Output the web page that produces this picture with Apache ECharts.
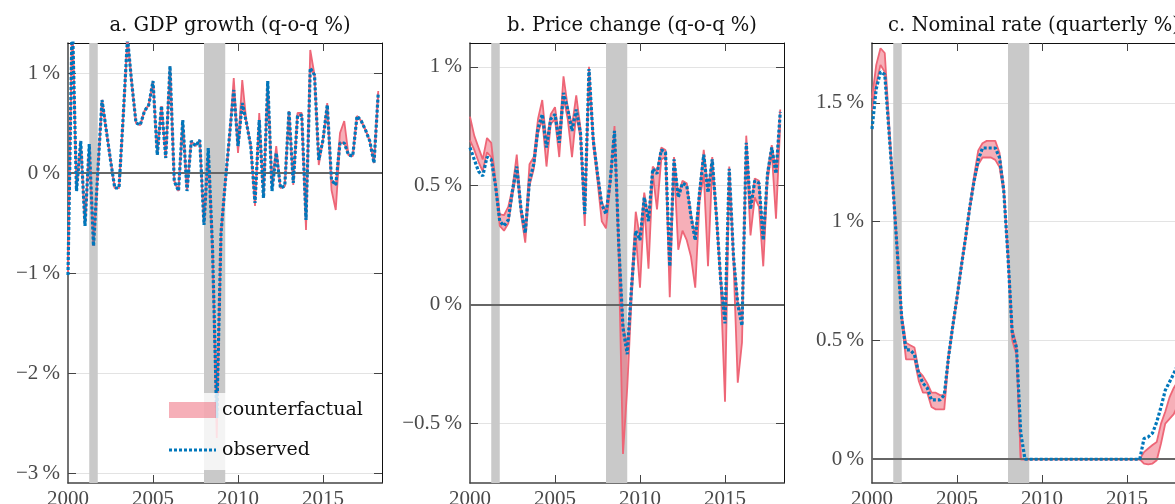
<!DOCTYPE html>
<html>
<head>
<meta charset="utf-8">
<script src="https://cdn.jsdelivr.net/npm/echarts@6/dist/echarts.min.js"></script>
<style>
html, body { margin: 0; padding: 0; overflow: hidden; background: #fff; }
#chart { width: 1200px; height: 520px; }
</style>
</head>
<body>
<div id="chart"></div>
<script>
// ---------------- data ----------------
const startYear = 2000;
const nQuarters = 74; // 2000Q1 .. 2018Q2
const quarters = Array.from({length: nQuarters}, (_, i) => startYear + i * 0.25);

const panelTitles = ['a. GDP growth (q-o-q %)', 'b. Price change (q-o-q %)', 'c. Nominal rate (quarterly %)'];
const xTickValues = [2000, 2005, 2010, 2015];
const recessions = [[2001.25, 2001.75], [2008.0, 2009.25]];

const gdpTicks = [-3, -2, -1, 0, 1];
const pceTicks = [-0.5, 0, 0.5, 1];
const rateTicks = [0, 0.5, 1, 1.5];

const gdpObs = [-1.02,1.6,-0.18,0.32,-0.53,0.29,-0.73,0.0,0.73,0.43,
  0.13,-0.15,-0.15,0.57,1.35,0.9,0.5,0.48,0.62,0.68,
  0.92,0.18,0.67,0.15,1.07,-0.08,-0.18,0.53,-0.18,0.32,
  0.27,0.33,-0.52,0.25,-0.75,-2.45,-0.6,-0.1,0.37,0.83,
  0.27,0.7,0.5,0.27,-0.3,0.53,-0.25,0.92,-0.18,0.2,
  -0.15,-0.13,0.62,-0.1,0.57,0.58,-0.47,1.05,0.98,0.13,
  0.33,0.68,-0.07,-0.12,0.3,0.3,0.18,0.17,0.57,0.52,
  0.43,0.32,0.1,0.8];
const gdpLo = [-1.02,1.6,-0.18,0.32,-0.53,0.29,-0.73,0.0,0.73,0.43,
  0.13,-0.15,-0.15,0.57,1.35,0.9,0.5,0.48,0.62,0.68,
  0.92,0.18,0.67,0.15,1.07,-0.08,-0.18,0.53,-0.18,0.32,
  0.27,0.33,-0.52,0.25,-0.75,-2.65,-0.6,-0.1,0.37,0.83,
  0.2,0.7,0.5,0.27,-0.33,0.53,-0.25,0.92,-0.18,0.2,
  -0.15,-0.13,0.62,-0.12,0.57,0.58,-0.57,1.05,0.98,0.08,
  0.33,0.68,-0.17,-0.37,0.3,0.3,0.18,0.17,0.57,0.52,
  0.43,0.32,0.1,0.8];
const gdpHi = [-1.02,1.6,-0.18,0.32,-0.53,0.29,-0.73,0.0,0.73,0.43,
  0.13,-0.15,-0.15,0.57,1.35,0.9,0.5,0.48,0.62,0.68,
  0.92,0.18,0.67,0.15,1.07,-0.08,-0.18,0.53,-0.18,0.32,
  0.27,0.33,-0.52,0.25,-0.75,-2.45,-0.6,-0.1,0.37,0.95,
  0.27,0.93,0.5,0.27,-0.3,0.6,-0.25,0.92,-0.1,0.27,
  -0.15,-0.13,0.62,-0.1,0.6,0.6,-0.47,1.23,0.98,0.13,
  0.33,0.7,-0.07,-0.12,0.4,0.52,0.18,0.17,0.57,0.52,
  0.43,0.32,0.1,0.82];

const pceObs = [0.66,0.61,0.56,0.54,0.62,0.61,0.50,0.35,0.33,0.355,
  0.48,0.58,0.40,0.30,0.52,0.59,0.74,0.80,0.66,0.78,
  0.80,0.68,0.89,0.82,0.73,0.82,0.72,0.38,0.99,0.69,
  0.55,0.42,0.38,0.52,0.73,0.25,-0.10,-0.21,0.07,0.31,
  0.27,0.45,0.35,0.57,0.55,0.65,0.64,0.16,0.61,0.45,
  0.51,0.50,0.37,0.27,0.47,0.63,0.47,0.61,0.37,0.10,
  -0.08,0.57,0.20,0.00,-0.09,0.68,0.40,0.52,0.51,0.27,
  0.55,0.66,0.55,0.81];
const pceLo = [0.69,0.65,0.60,0.56,0.64,0.62,0.49,0.33,0.31,0.34,
  0.46,0.56,0.38,0.26,0.50,0.57,0.72,0.78,0.58,0.76,
  0.78,0.62,0.87,0.78,0.62,0.80,0.70,0.33,0.97,0.67,
  0.52,0.35,0.32,0.50,0.72,0.20,-0.63,-0.35,0.02,0.29,
  0.07,0.42,0.15,0.55,0.40,0.61,0.62,0.03,0.59,0.23,
  0.31,0.27,0.20,0.07,0.43,0.55,0.16,0.58,0.35,0.08,
  -0.41,0.55,0.18,-0.33,-0.16,0.66,0.29,0.45,0.41,0.16,
  0.52,0.64,0.36,0.76];
const pceHi = [0.79,0.71,0.66,0.61,0.70,0.68,0.52,0.38,0.375,0.41,
  0.49,0.63,0.41,0.31,0.59,0.62,0.78,0.86,0.68,0.80,
  0.83,0.70,0.96,0.83,0.75,0.88,0.74,0.40,1.00,0.71,
  0.56,0.43,0.39,0.53,0.75,0.27,-0.08,-0.19,0.09,0.39,
  0.28,0.47,0.36,0.58,0.56,0.66,0.65,0.17,0.62,0.46,
  0.52,0.51,0.38,0.28,0.48,0.65,0.48,0.62,0.38,0.11,
  -0.06,0.58,0.21,0.01,-0.06,0.71,0.41,0.53,0.52,0.28,
  0.56,0.67,0.56,0.82];

const rateObs = [1.39,1.56,1.63,1.62,1.38,1.13,0.86,0.59,0.46,0.46,
  0.44,0.36,0.32,0.30,0.25,0.25,0.25,0.27,0.43,0.56,
  0.68,0.81,0.93,1.06,1.17,1.26,1.31,1.31,1.31,1.31,
  1.27,1.13,0.85,0.53,0.47,0.11,0,0,0,0,
  0,0,0,0,0,0,0,0,0,0,
  0,0,0,0,0,0,0,0,0,0,
  0,0,0,0,0.087,0.094,0.11,0.157,0.22,0.29,
  0.325,0.36,0.40,0.44];
const rateLo = [1.47,1.58,1.66,1.63,1.37,1.12,0.85,0.58,0.42,0.42,
  0.42,0.33,0.28,0.28,0.22,0.21,0.21,0.21,0.42,0.55,
  0.67,0.80,0.92,1.05,1.16,1.24,1.27,1.27,1.27,1.26,
  1.23,1.12,0.84,0.50,0.44,0,0,0,0,0,
  0,0,0,0,0,0,0,0,0,0,
  0,0,0,0,0,0,0,0,0,0,
  0,0,0,0,-0.018,-0.022,-0.018,-0.004,0.066,0.15,
  0.17,0.19,0.23,0.27];
const rateHi = [1.52,1.66,1.73,1.71,1.42,1.15,0.88,0.61,0.49,0.48,
  0.47,0.37,0.35,0.32,0.28,0.28,0.27,0.27,0.44,0.57,
  0.69,0.82,0.94,1.07,1.19,1.30,1.33,1.34,1.34,1.34,
  1.29,1.15,0.87,0.55,0.48,0,0,0,0,0,
  0,0,0,0,0,0,0,0,0,0,
  0,0,0,0,0,0,0,0,0,0,
  0,0,0,0,0.03,0.045,0.06,0.073,0.15,0.2,
  0.26,0.30,0.33,0.37];

// ---------------- layout / styles ----------------
const panels = [
  {obs: gdpObs, lo: gdpLo, hi: gdpHi, ticks: gdpTicks, ymin: -3.1, ymax: 1.3, left: 68},
  {obs: pceObs, lo: pceLo, hi: pceHi, ticks: pceTicks, ymin: -0.752, ymax: 1.1, left: 470},
  {obs: rateObs, lo: rateLo, hi: rateHi, ticks: rateTicks, ymin: -0.1, ymax: 1.752, left: 872}
];
const GRID_TOP = 43, GRID_H = 440, GRID_W = 314;
const XMAX = startYear + GRID_W / 17;

const PINK = '#EE6677';
const PINK_FILL = 'rgba(238,102,119,0.52)';
const BLUE = '#0077BB';
const BAND_GRAY = '#c9c9c9';
const SERIF = "'DejaVu Serif', serif";
const TICKFONT = "'Liberation Serif', serif";

const pairs = arr => arr.map((v, i) => [quarters[i], v]);
const fmtPct = v => (v < 0 ? '\u2212' : '') + Math.abs(v) + '\u2009%';

const grid = [], xAxis = [], yAxis = [], series = [], title = [];

panels.forEach((p, k) => {
  grid.push({left: p.left, top: GRID_TOP, width: GRID_W, height: GRID_H});
  title.push({
    text: panelTitles[k], left: p.left + GRID_W / 2, top: 11, textAlign: 'center',
    textStyle: {fontFamily: SERIF, fontSize: 19.5, fontWeight: 'normal', color: '#111'}
  });
  xAxis.push({
    gridIndex: k, type: 'value', min: startYear, max: XMAX, position: 'bottom',
    axisLine: {show: true, onZero: false, lineStyle: {color: '#444', width: 1.5}},
    axisTick: {show: true, inside: true, length: 8, customValues: xTickValues.slice(1), lineStyle: {color: '#444'}},
    axisLabel: {show: true, customValues: xTickValues, margin: 6, formatter: v => String(v),
      fontFamily: TICKFONT, fontSize: 21, color: '#4a4a4a'},
    splitLine: {show: false}
  });
  xAxis.push({
    gridIndex: k, type: 'value', min: startYear, max: XMAX, position: 'top',
    axisLine: {show: true, onZero: false, lineStyle: {color: '#111', width: 1}},
    axisTick: {show: true, inside: true, length: 8, customValues: xTickValues.slice(1), lineStyle: {color: '#444'}},
    axisLabel: {show: false},
    splitLine: {show: false}
  });
  yAxis.push({
    gridIndex: k, type: 'value', min: p.ymin, max: p.ymax, position: 'left',
    axisLine: {show: true, onZero: false, lineStyle: {color: '#444', width: 1.5}},
    axisTick: {show: true, inside: true, length: 8, customValues: p.ticks, lineStyle: {color: '#444'}},
    axisLabel: {show: true, customValues: p.ticks, margin: 8, formatter: fmtPct,
      fontFamily: TICKFONT, fontSize: 21, color: '#4a4a4a'},
    splitLine: {show: true, lineStyle: {color: '#e3e3e3', width: 1}}
  });
  yAxis.push({
    gridIndex: k, type: 'value', min: p.ymin, max: p.ymax, position: 'right',
    axisLine: {show: true, onZero: false, lineStyle: {color: '#111', width: 1}},
    axisTick: {show: true, inside: true, length: 8, customValues: p.ticks, lineStyle: {color: '#444'}},
    axisLabel: {show: false},
    splitLine: {show: false}
  });

  const xi = 2 * k, yi = 2 * k;
  series.push({
    type: 'line', xAxisIndex: xi, yAxisIndex: yi, data: pairs(p.obs), symbol: 'none', silent: true, z: 1,
    lineStyle: {opacity: 0},
    markArea: {silent: true, itemStyle: {color: BAND_GRAY, opacity: 1},
      data: recessions.map(r => [{xAxis: r[0]}, {xAxis: r[1]}])}
  });
  series.push({
    type: 'line', xAxisIndex: xi, yAxisIndex: yi, data: pairs(p.obs), symbol: 'none', silent: true, z: 2,
    lineStyle: {opacity: 0},
    markLine: {silent: true, symbol: 'none', label: {show: false},
      lineStyle: {color: '#666', width: 2, type: 'solid'}, data: [{yAxis: 0}]}
  });
  series.push({
    name: 'counterfactual', type: 'custom', xAxisIndex: xi, yAxisIndex: yi, z: 3, silent: true,
    data: [[quarters[0], p.lo[0]]],
    renderItem: (params, api) => {
      const pts = [];
      for (let i = 0; i < quarters.length; i++) pts.push(api.coord([quarters[i], p.lo[i]]));
      for (let i = quarters.length - 1; i >= 0; i--) pts.push(api.coord([quarters[i], p.hi[i]]));
      const cs = params.coordSys;
      return {
        type: 'polygon', shape: {points: pts}, style: {fill: PINK_FILL},
        clipPath: {type: 'rect', shape: {x: cs.x, y: cs.y, width: cs.width, height: cs.height}}
      };
    }
  });
  series.push({
    type: 'line', xAxisIndex: xi, yAxisIndex: yi, data: pairs(p.lo), symbol: 'none', z: 4, silent: true,
    lineStyle: {color: PINK, width: 1.8}
  });
  series.push({
    type: 'line', xAxisIndex: xi, yAxisIndex: yi, data: pairs(p.hi), symbol: 'none', z: 4, silent: true,
    lineStyle: {color: PINK, width: 1.8}
  });
  series.push({
    name: 'observed', type: 'line', xAxisIndex: xi, yAxisIndex: yi,
    data: pairs(p.obs), symbol: 'none', z: 5,
    lineStyle: {color: BLUE, width: 3.2, type: [3, 2]}
  });
});

const option = {
  animation: false,
  backgroundColor: '#fff',
  title, grid, xAxis, yAxis, series,
  graphic: [
    {type: 'rect', shape: {x: 161, y: 393, width: 212, height: 77}, style: {fill: 'rgba(255,255,255,0.8)'}, z: 100},
    {type: 'rect', shape: {x: 169, y: 402, width: 47, height: 16}, style: {fill: PINK_FILL}, z: 101},
    {type: 'text', x: 222, y: 410, z: 101,
      style: {text: 'counterfactual', fill: '#111', font: '19px ' + SERIF, verticalAlign: 'middle', textVerticalAlign: 'middle'}},
    {type: 'line', shape: {x1: 169, y1: 450, x2: 216, y2: 450}, z: 101,
      style: {stroke: BLUE, lineWidth: 3, lineDash: [3, 2]}},
    {type: 'text', x: 222, y: 450, z: 101,
      style: {text: 'observed', fill: '#111', font: '19px ' + SERIF, verticalAlign: 'middle', textVerticalAlign: 'middle'}}
  ]
};

const chart = echarts.init(document.getElementById('chart'), null, {renderer: 'canvas'});
chart.setOption(option);
</script>
</body>
</html>
